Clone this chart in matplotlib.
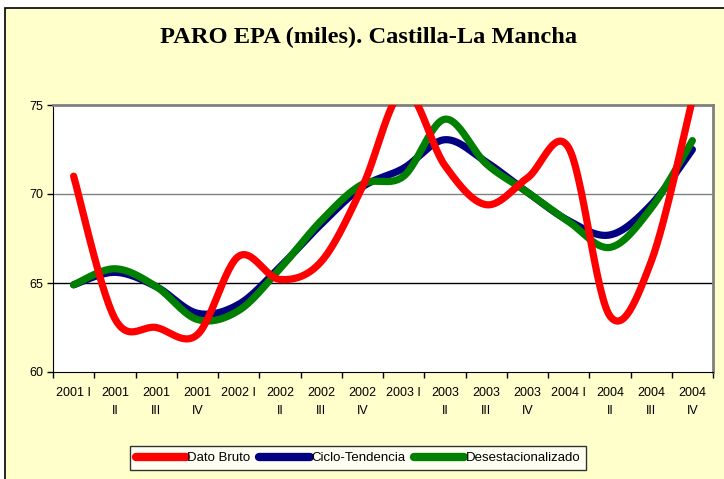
import numpy as np
import matplotlib
matplotlib.use("Agg")
import matplotlib.pyplot as plt
from matplotlib.patches import Rectangle
from matplotlib.lines import Line2D

# quarters 2001 I .. 2004 IV
quarters = ["2001 I", "2001\nII", "2001\nIII", "2001\nIV",
            "2002 I", "2002\nII", "2002\nIII", "2002\nIV",
            "2003 I", "2003\nII", "2003\nIII", "2003\nIV",
            "2004 I", "2004\nII", "2004\nIII", "2004\nIV"]

dato_bruto = [71.0, 63.0, 62.5, 62.1, 66.5, 65.2, 66.2, 70.4,
              75.8, 71.6, 69.4, 70.9, 72.6, 63.15, 66.2, 75.3]
ciclo_tendencia = [64.9, 65.6, 64.8, 63.3, 63.8, 65.9, 68.3, 70.4,
                   71.45, 73.05, 71.8, 70.1, 68.5, 67.7, 69.4, 72.5]
desestacionalizado = [64.9, 65.8, 64.8, 62.95, 63.45, 65.8, 68.5, 70.55,
                      71.0, 74.2, 71.7, 70.1, 68.45, 67.0, 69.2, 73.0]


def smooth(xs, ys, n=30):
    # Excel-like smoothed line (Catmull-Rom through the points)
    p = np.column_stack([xs, ys]).astype(float)
    p = np.vstack([p[0], p, p[-1]])
    out = []
    for i in range(1, len(p) - 2):
        p0, p1, p2, p3 = p[i - 1], p[i], p[i + 1], p[i + 2]
        b1 = p1 + (p2 - p0) / 6.0
        b2 = p2 - (p3 - p1) / 6.0
        t = np.linspace(0, 1, n)[:, None]
        seg = ((1 - t) ** 3) * p1 + 3 * ((1 - t) ** 2) * t * b1 \
            + 3 * (1 - t) * t ** 2 * b2 + t ** 3 * p2
        out.append(seg if i == 1 else seg[1:])
    s = np.vstack(out)
    return s[:, 0], s[:, 1]


fig = plt.figure(figsize=(7.24, 4.79), dpi=100)
fig.patch.set_facecolor("white")

# chart area frame
W, H = 724, 479
frame = Rectangle((5 / W, -0.1), 1.2, 1.1 - 8 / H, transform=fig.transFigure,
                  facecolor="#FFFFCC", edgecolor="black", linewidth=1.2,
                  zorder=-5)
fig.add_artist(frame)

ax = fig.add_axes([53 / W, (479 - 372) / H, 660 / W, 267 / H])
ax.set_facecolor("white")

x = np.arange(len(quarters))
series = [(dato_bruto, "#FF0000", "Dato Bruto", 4),
          (ciclo_tendencia, "#000080", "Ciclo-Tendencia", 2),
          (desestacionalizado, "#008000", "Desestacionalizado", 3)]
for vals, col, lab, z in series:
    sx, sy = smooth(x, vals)
    ax.plot(sx, sy, color=col, lw=5.2, solid_capstyle="round",
            solid_joinstyle="round", zorder=z)

ax.set_xlim(-0.5, len(quarters) - 0.5)
ax.set_ylim(60, 75)

ax.axhline(65, color="black", lw=1.0, zorder=1)
ax.axhline(70, color="#808080", lw=1.0, zorder=1)

ax.set_yticks([60, 65, 70, 75])
ax.tick_params(axis="y", direction="out", length=4, width=1, labelsize=9, pad=3)
ax.set_xticks(np.arange(-0.5, len(quarters), 1.0))
ax.set_xticklabels([])
ax.set_xticks(x, minor=True)
ax.set_xticklabels(quarters, minor=True, fontsize=9, linespacing=1.6,
                   verticalalignment="top")
ax.tick_params(axis="x", which="major", direction="out", length=4, width=1)
ax.tick_params(axis="x", which="minor", length=0, pad=11)
for lbl in ax.get_xticklabels(minor=True) + ax.get_yticklabels():
    lbl.set_fontfamily("Liberation Sans")

for side in ["top", "right"]:
    ax.spines[side].set_color("#808080")
    ax.spines[side].set_linewidth(2)
ax.spines["left"].set_color("black")
ax.spines["bottom"].set_color("black")

fig.text(369 / W, 1 - 37 / H, "PARO EPA (miles). Castilla-La Mancha",
         ha="center", va="center", fontsize=17.6, fontweight="bold",
         family="Liberation Serif")

handles = [Line2D([0], [0], color=c, lw=6, solid_capstyle="round")
           for _, c, _, _ in series]
leg = fig.legend(handles, [s[2] for s in series], loc="center",
                 bbox_to_anchor=(358 / W, 1 - 458 / H), ncol=3,
                 frameon=True, fancybox=False, handlelength=3.8,
                 handletextpad=0.1, columnspacing=0.7, borderpad=0.45,
                 prop={"family": "Liberation Sans", "size": 9.5})
leg.get_frame().set_edgecolor("black")
leg.get_frame().set_linewidth(1.0)

fig.savefig("out.png", dpi=100, facecolor=fig.get_facecolor())
